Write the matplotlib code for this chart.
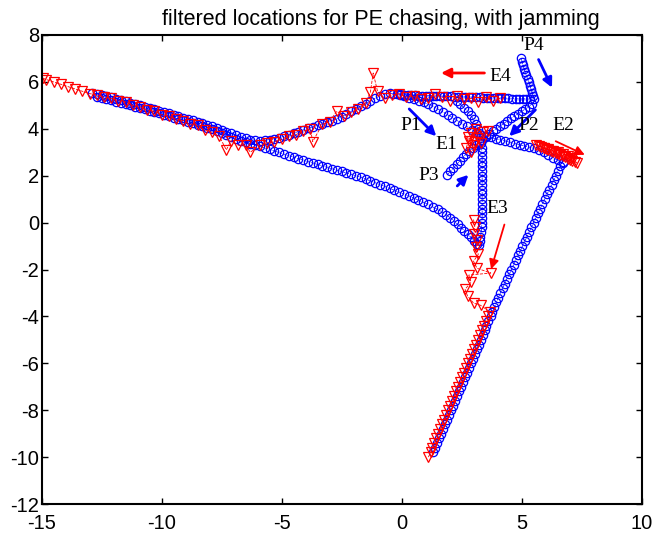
import matplotlib
matplotlib.use("Agg")
import matplotlib.pyplot as plt

plt.rcParams["axes.unicode_minus"] = False

# ---------------- data ----------------
# Pursuer tracks (blue circles)
p4_x = [4.96, 4.99, 5.03, 5.08, 5.13, 5.18, 5.23, 5.28, 5.33, 5.38, 5.43, 5.46, 5.48,
        5.33, 5.18, 5.03, 4.88, 4.73, 4.58, 4.43, 4.28, 4.13, 3.98, 3.83, 3.68, 3.53, 3.38, 3.23,
        3.08, 2.93, 2.78, 2.63, 2.48, 2.33, 2.18, 2.03, 1.88, 1.73, 1.58, 1.43, 1.28, 1.13, 0.98,
        0.83, 0.68, 0.53, 0.38, 0.23, 0.08, -0.07, -0.22, -0.37, -0.52,
        -0.72, -0.92, -1.12, -1.32, -1.52, -1.72, -1.92, -2.12, -2.32, -2.52, -2.72, -2.92, -3.12,
        -3.32, -3.52, -3.72, -3.92, -4.12, -4.32, -4.52, -4.72, -4.92, -5.12, -5.32, -5.52, -5.72,
        -5.92, -6.12, -6.32, -6.52, -6.72, -6.92, -7.12, -7.32, -7.52, -7.72, -7.92, -8.12, -8.32,
        -8.52, -8.72, -8.92, -9.12, -9.32, -9.52, -9.72, -9.92, -10.12, -10.32, -10.52, -10.72,
        -10.92, -11.12, -11.32, -11.52, -11.72, -11.92, -12.12, -12.32, -12.52, -12.72, -12.92]
p4_y = [7.01, 6.86, 6.72, 6.57, 6.42, 6.28, 6.13, 5.98, 5.83, 5.68, 5.53, 5.39, 5.26,
        5.27, 5.27, 5.28, 5.28, 5.29, 5.29, 5.3, 5.3, 5.31, 5.31, 5.32, 5.32, 5.33, 5.33, 5.34,
        5.34, 5.35, 5.35, 5.36, 5.36, 5.37, 5.37, 5.38, 5.38, 5.39, 5.39, 5.4, 5.4, 5.41, 5.41,
        5.42, 5.42, 5.43, 5.44, 5.45, 5.46, 5.47, 5.49, 5.5, 5.51,
        5.48, 5.4, 5.3, 5.18, 5.07, 4.97, 4.86, 4.74, 4.62, 4.52, 4.43, 4.35, 4.28, 4.21, 4.15,
        4.08, 4.02, 3.95, 3.88, 3.82, 3.75, 3.68, 3.62, 3.58, 3.54, 3.51, 3.5, 3.51, 3.54, 3.6,
        3.67, 3.73, 3.8, 3.88, 3.96, 4.04, 4.11, 4.17, 4.24, 4.3, 4.36, 4.42, 4.48, 4.54, 4.6,
        4.66, 4.72, 4.78, 4.84, 4.9, 4.95, 5.01, 5.07, 5.12, 5.18, 5.23, 5.28, 5.34, 5.39, 5.44,
        5.49, 5.54]

lower_x = [-12.72, -12.52, -12.32, -12.12, -11.92, -11.72, -11.52, -11.32, -11.12, -10.92,
           -10.72, -10.52, -10.32, -10.12, -9.92, -9.72, -9.52, -9.32, -9.12, -8.92, -8.72,
           -8.52, -8.32, -8.12, -7.92, -7.72, -7.52, -7.32, -7.12, -6.92, -6.72, -6.52, -6.32,
           -6.12, -5.92, -5.72, -5.52, -5.32, -5.12, -4.92, -4.72, -4.52, -4.32, -4.12, -3.92,
           -3.72, -3.52, -3.32, -3.12, -2.92, -2.72, -2.52, -2.32, -2.12, -1.92, -1.72, -1.52,
           -1.32, -1.12, -0.92, -0.72, -0.52, -0.32, -0.12, 0.08, 0.28, 0.48, 0.68, 0.88, 1.08,
           1.28, 1.48, 1.68, 1.85, 2.01, 2.17, 2.32, 2.46, 2.6, 2.74, 2.88, 3.01, 3.13]
lower_y = [5.37, 5.32, 5.27, 5.22, 5.16, 5.11, 5.06, 5.0, 4.95, 4.89, 4.83, 4.78, 4.72, 4.66,
           4.6, 4.54, 4.48, 4.42, 4.36, 4.3, 4.24, 4.18, 4.12, 4.05, 3.98, 3.9, 3.82, 3.74, 3.66,
           3.58, 3.5, 3.43, 3.37, 3.31, 3.25, 3.18, 3.12, 3.05, 2.99, 2.92, 2.86, 2.79, 2.73,
           2.66, 2.6, 2.54, 2.48, 2.42, 2.36, 2.3, 2.24, 2.18, 2.12, 2.06, 2.0, 1.93, 1.86, 1.78,
           1.7, 1.62, 1.54, 1.46, 1.38, 1.3, 1.22, 1.14, 1.05, 0.96, 0.87, 0.78, 0.67, 0.56, 0.45,
           0.33, 0.2, 0.07, -0.07, -0.21, -0.35, -0.5, -0.63, -0.77, -0.9]

p1_x = [-0.1, 0.1, 0.3, 0.5, 0.7, 0.9, 1.1, 1.3, 1.5, 1.7, 1.9, 2.1, 2.3, 2.5, 2.7, 2.9, 3.1,
        3.3, 3.5, 3.7, 3.9, 4.1, 4.3, 4.5, 4.7, 4.9, 5.1, 5.3, 5.5, 5.7, 5.9, 6.1, 6.3, 6.5, 6.7]
p1_y = [5.45, 5.4, 5.33, 5.27, 5.2, 5.13, 5.04, 4.95, 4.84, 4.72, 4.6, 4.48, 4.35, 4.22, 4.1,
        3.97, 3.84, 3.74, 3.68, 3.63, 3.58, 3.53, 3.48, 3.42, 3.37, 3.32, 3.27, 3.22, 3.16, 3.11,
        3.02, 2.9, 2.77, 2.65, 2.55]

p23_x = [1.88, 2.01, 2.14, 2.28, 2.41, 2.54, 2.68, 2.81, 2.95, 3.08, 3.21, 3.35, 3.48, 3.63,
         3.78, 3.93, 4.08, 4.23, 4.38, 4.53, 4.68, 4.83, 4.98, 5.13, 5.28, 5.43]
p23_y = [2.03, 2.18, 2.33, 2.48, 2.63, 2.78, 2.93, 3.06, 3.18, 3.3, 3.42, 3.54, 3.66, 3.78, 3.9,
         4.01, 4.11, 4.22, 4.33, 4.44, 4.54, 4.64, 4.74, 4.84, 4.94, 5.05]

vert_x = [2.28, 2.43, 2.58, 2.73, 2.86, 2.98, 3.08, 3.16, 3.22, 3.27, 3.3, 3.32, 3.33, 3.34,
          3.34, 3.34, 3.34, 3.34, 3.34, 3.34, 3.34, 3.34, 3.34, 3.34, 3.34, 3.34, 3.34, 3.33,
          3.32, 3.3, 3.27, 3.24, 3.21]
vert_y = [5.2, 5.05, 4.9, 4.74, 4.57, 4.4, 4.2, 4.0, 3.8, 3.6, 3.4, 3.2, 3.0, 2.8, 2.6, 2.4, 2.2,
          2.0, 1.8, 1.6, 1.4, 1.2, 1.0, 0.8, 0.6, 0.4, 0.2, 0.0, -0.2, -0.4, -0.6, -0.8, -0.95]

diag_x = [6.69, 6.6, 6.5, 6.41, 6.32, 6.23, 6.13, 6.04, 5.95, 5.85, 5.76, 5.67, 5.58, 5.48, 5.39,
          5.3, 5.21, 5.11, 5.02, 4.93, 4.84, 4.74, 4.65, 4.56, 4.47, 4.37, 4.28, 4.19, 4.1, 4.01,
          3.93, 3.85, 3.77, 3.69, 3.6, 3.52, 3.44, 3.36, 3.28, 3.19, 3.11, 3.03, 2.95, 2.87, 2.78,
          2.7, 2.62, 2.54, 2.46, 2.37, 2.29, 2.21, 2.13, 2.05, 1.96, 1.88, 1.8, 1.72, 1.64, 1.55,
          1.47, 1.39, 1.31]
diag_y = [2.6, 2.4, 2.2, 2.0, 1.8, 1.6, 1.4, 1.2, 1.0, 0.8, 0.6, 0.4, 0.2, 0.0, -0.2, -0.4, -0.6,
          -0.8, -1.0, -1.2, -1.4, -1.6, -1.8, -2.0, -2.2, -2.4, -2.6, -2.8, -3.0, -3.2, -3.4, -3.6,
          -3.8, -4.0, -4.2, -4.4, -4.6, -4.8, -5.0, -5.2, -5.4, -5.6, -5.8, -6.0, -6.2, -6.4, -6.6,
          -6.8, -7.0, -7.2, -7.4, -7.6, -7.8, -8.0, -8.2, -8.4, -8.6, -8.8, -9.0, -9.2, -9.4, -9.6,
          -9.8]

# Evader tracks (red triangles)
e4_x = [4.08, 3.78, 3.48, 3.18, 2.88, 2.58, 2.28, 1.98, 1.68, 1.38, 1.08, 0.78, 0.48, 0.18,
        -0.12, -0.42, -0.72, -1.02, -1.2, -1.32, -1.52, -1.82, -2.12, -2.42, -2.72, -3.02, -3.32,
        -3.72, -3.82, -4.12, -4.42, -4.72, -5.02, -5.32, -5.62, -5.92, -6.32, -6.52, -6.82, -7.12,
        -7.32, -7.62, -7.92, -8.22, -8.52, -8.82, -9.12, -9.42, -9.72, -10.02, -10.32, -10.62,
        -10.92, -11.22, -11.52, -11.82, -12.12, -12.42, -12.72, -13.02, -13.32, -13.62, -13.92,
        -14.22, -14.52, -14.82, -14.95]
e4_y = [5.3, 5.2, 5.35, 5.15, 5.3, 5.25, 5.4, 5.2, 5.35, 5.5, 5.3, 5.25, 5.4, 5.35, 5.5, 5.45, 5.3,
        5.6, 6.38, 5.55, 5.1, 4.85, 4.7, 4.55, 4.75, 4.3, 4.2, 3.45, 4.0, 3.9, 3.75, 3.7, 3.55, 3.45,
        3.4, 3.3, 3.0, 3.3, 3.3, 3.5, 3.1, 3.7, 3.85, 3.95, 4.15, 4.2, 4.35, 4.4, 4.55, 4.6, 4.75,
        4.8, 4.95, 5.0, 5.15, 5.2, 5.3, 5.35, 5.45, 5.5, 5.6, 5.7, 5.8, 5.9, 6.0, 6.1, 6.15]

e1_x = [2.68, 2.78, 2.98, 2.88, 3.18, 3.08, 3.38, 3.58, 3.28, 2.88, 2.73, 3.03]
e1_y = [3.2, 3.5, 3.3, 3.8, 3.6, 4.0, 3.85, 3.9, 3.4, 3.0, 3.65, 3.45]

e2_x = [5.6, 5.7, 5.8, 5.9, 6.0, 6.1, 6.2, 6.3, 6.4, 6.5, 6.6, 6.7, 6.8, 6.9, 7.0, 7.1, 7.2, 7.3,
        7.1, 6.9, 6.7, 6.5, 6.3, 6.1, 5.9]
e2_y = [3.3, 3.26, 3.22, 3.18, 3.14, 3.1, 3.06, 3.02, 2.98, 2.93, 2.88, 2.83, 2.78, 2.73, 2.68,
        2.63, 2.58, 2.53, 2.75, 2.85, 2.93, 3.0, 3.06, 3.12, 3.18]

e3_x = [2.98, 3.03, 2.98, 3.13, 3.08, 3.18, 2.98, 3.13, 3.7, 2.78, 2.88, 2.63, 2.73, 2.98, 3.28,
        3.65, 3.57, 3.48, 3.4, 3.32, 3.24, 3.16, 3.07, 2.99, 2.91, 2.83, 2.75, 2.66, 2.58, 2.5,
        2.42, 2.34, 2.25, 2.17, 2.09, 2.01, 1.93, 1.84, 1.76, 1.68, 1.6, 1.52, 1.43, 1.35, 1.27,
        1.19, 1.1]
e3_y = [0.13, -0.17, -0.47, -0.76, -1.06, -1.35, -1.65, -1.95, -2.15, -2.24, -2.54, -2.84, -3.13,
        -3.43, -3.53, -3.8, -4.0, -4.2, -4.4, -4.6, -4.8, -5.0, -5.2, -5.4, -5.6, -5.8, -6.0,
        -6.2, -6.4, -6.6, -6.8, -7.0, -7.2, -7.4, -7.6, -7.8, -8.0, -8.2, -8.4, -8.6, -8.8, -9.0,
        -9.2, -9.4, -9.6, -9.8, -10.0]

# Labels and direction arrows
labels = ["P4", "E4", "P1", "E1", "P2", "E2", "P3", "E3"]
label_x = [5.47, 4.1, 0.35, 1.85, 5.3, 6.72, 1.1, 3.97]
label_y = [7.57, 6.25, 4.12, 3.35, 4.12, 4.12, 1.99, 0.62]

blue_arrows = [((0.22, 4.93), (1.51, 3.6)), ((5.64, 4.89), (4.39, 3.6)),
               ((2.22, 1.48), (2.85, 2.12)), ((5.64, 7.06), (6.3, 5.65))]
red_arrows = [((3.55, 6.38), (1.51, 6.38)), ((6.3, 3.52), (7.72, 2.84)),
              ((4.3, 0.03), (3.68, -2.1))]

xticks = [-15, -10, -5, 0, 5, 10]
yticks = [-12, -10, -8, -6, -4, -2, 0, 2, 4, 6, 8]

# ---------------- drawing ----------------
fig = plt.figure(figsize=(6.56, 5.35), dpi=100)
ax = fig.add_axes([42 / 656, 31 / 535, 600 / 656, 469 / 535])

blue_style = dict(color="blue", linestyle="--", linewidth=0.5, marker="o", markersize=6,
                  markerfacecolor="none", markeredgecolor="blue", markeredgewidth=0.9)
red_style = dict(color="red", linestyle="--", linewidth=0.6, marker="v", markersize=7.5,
                 markerfacecolor="none", markeredgecolor="red", markeredgewidth=0.9)

for xs, ys in [(p4_x, p4_y), (lower_x, lower_y), (p1_x, p1_y), (p23_x, p23_y),
               (vert_x, vert_y), (diag_x, diag_y)]:
    ax.plot(xs, ys, **blue_style)

for xs, ys in [(e4_x, e4_y), (e1_x, e1_y), (e2_x, e2_y), (e3_x, e3_y)]:
    ax.plot(xs, ys, **red_style)

for (x0, y0), (x1, y1) in blue_arrows:
    ax.annotate("", xy=(x1, y1), xytext=(x0, y0),
                arrowprops=dict(arrowstyle="-|>", color="blue", lw=2.0, mutation_scale=14))
for i, ((x0, y0), (x1, y1)) in enumerate(red_arrows):
    ax.annotate("", xy=(x1, y1), xytext=(x0, y0),
                arrowprops=dict(arrowstyle="-|>", color="red", lw=2.0 if i == 0 else 1.3,
                                mutation_scale=14))

for t, x, y in zip(labels, label_x, label_y):
    ax.text(x, y, t, fontsize=14, family="Liberation Serif", ha="center", va="center")

ax.set_xlim(-15, 10)
ax.set_ylim(-12, 8)
ax.set_xticks(xticks)
ax.set_yticks(yticks)
ax.tick_params(axis="both", direction="in", top=True, right=True, labelsize=14.5,
               length=4, width=1)
ax.tick_params(axis="x", pad=7)
ax.tick_params(axis="y", pad=2)
for lab in ax.get_xticklabels() + ax.get_yticklabels():
    lab.set_family("Liberation Sans")
for s in ax.spines.values():
    s.set_linewidth(1.5)

fig.text(381 / 656, 1 - 20 / 535, "filtered locations for PE chasing, with jamming",
         family="Liberation Sans", fontsize=15.5, ha="center", va="center")

fig.savefig("out.png", dpi=100)
